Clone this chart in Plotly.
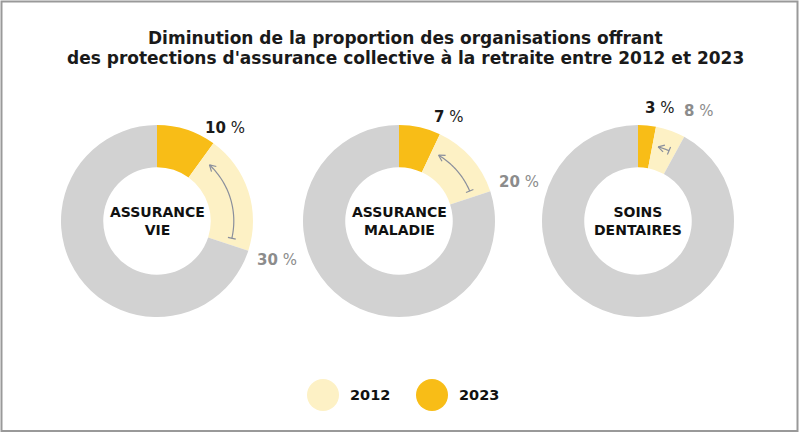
import math
import plotly.graph_objects as go

# ---- data ----
categories = ["ASSURANCE<br>VIE", "ASSURANCE<br>MALADIE", "SOINS<br>DENTAIRES"]
pct_2012 = [30, 20, 8]
pct_2023 = [10, 7, 3]
years = ["2012", "2023"]
title_lines = [
    "Diminution de la proportion des organisations offrant",
    "des protections d'assurance collective à la retraite entre 2012 et 2023",
]

# ---- styles / layout ----
W, H = 800, 434
C_2012 = "#fdf1c5"
C_2023 = "#f8bd17"
C_REST = "#d2d2d2"
ARROW_C = "#8a8f9c"
FONT = "DejaVu Sans, Liberation Sans, Arial, sans-serif"

centers_x = [157, 399, 638]
center_y = 221
R = 96
HOLE = 0.56


def px(x):
    return x / W


def py(y):
    return 1 - y / H


def polar(cx, cy, rho, theta_deg):
    t = math.radians(theta_deg)
    return cx + rho * math.sin(t), cy - rho * math.cos(t)


fig = go.Figure()
annotations = []
shapes = []

for i, cat in enumerate(categories):
    cx = centers_x[i]
    v23, v12 = pct_2023[i], pct_2012[i]
    fig.add_trace(go.Pie(
        values=[v23, v12 - v23, 100 - v12],
        labels=["2023", "2012", "autres"],
        marker=dict(colors=[C_2023, C_2012, C_REST], line=dict(width=0)),
        sort=False, direction="clockwise", rotation=0, hole=HOLE,
        textinfo="none", hoverinfo="skip", showlegend=False,
        domain=dict(x=[px(cx - R), px(cx + R)], y=[py(center_y + R), py(center_y - R)]),
    ))

    # centre label
    annotations.append(dict(
        x=px(cx), y=py(center_y), xref="paper", yref="paper",
        text="<b>" + cat + "</b>", showarrow=False,
        font=dict(family=FONT, size=14, color="#111111"),
        xanchor="center", yanchor="middle",
    ))

    # percentage labels
    a23 = v23 * 3.6
    a12 = v12 * 3.6
    lx, ly = polar(cx, center_y, R * 1.2, a23)
    annotations.append(dict(
        x=px(lx), y=py(ly), xref="paper", yref="paper",
        text="<b>%d</b> %%" % v23, showarrow=False,
        font=dict(family=FONT, size=15, color="#1a1a1a"),
        xanchor="center", yanchor="middle",
    ))
    lx, ly = polar(cx, center_y, R * 1.31, a12)
    annotations.append(dict(
        x=px(lx), y=py(ly), xref="paper", yref="paper",
        text="<b>%d</b> %%" % v12, showarrow=False,
        font=dict(family=FONT, size=15, color="#8c8c8c"),
        xanchor="center", yanchor="middle",
    ))

    # curved arrow from 2012 boundary to 2023 boundary
    span = a12 - a23
    t_tail = a12 - 5
    t_head = a23 + 3.5 + 0.05 * span
    rho = R * 0.8
    n = 30
    pts = [polar(cx, center_y, rho, t_tail + (t_head - t_tail) * k / n) for k in range(n + 1)]
    path = "M " + " L ".join("%.5f,%.5f" % (px(x), py(y)) for x, y in pts)
    shapes.append(dict(type="path", path=path, xref="paper", yref="paper",
                       line=dict(color=ARROW_C, width=1.2), layer="above"))
    # tee at tail (radial bar)
    p1 = polar(cx, center_y, rho - 4, t_tail)
    p2 = polar(cx, center_y, rho + 4, t_tail)
    shapes.append(dict(type="line", x0=px(p1[0]), y0=py(p1[1]), x1=px(p2[0]), y1=py(p2[1]),
                       xref="paper", yref="paper", line=dict(color=ARROW_C, width=1.2), layer="above"))
    # arrowhead at head
    hx, hy = pts[-1]
    th = math.radians(t_head)
    bx, by = math.cos(th), math.sin(th)  # direction back along the arc
    for s in (-1, 1):
        ang = math.radians(30) * s
        dx = bx * math.cos(ang) - by * math.sin(ang)
        dy = bx * math.sin(ang) + by * math.cos(ang)
        shapes.append(dict(type="line", x0=px(hx), y0=py(hy), x1=px(hx + 7 * dx), y1=py(hy + 7 * dy),
                           xref="paper", yref="paper", line=dict(color=ARROW_C, width=1.2), layer="above"))

# title
for j, line in enumerate(title_lines):
    annotations.append(dict(
        x=px(406), y=py(38 + 20 * j), xref="paper", yref="paper",
        text="<b>" + line + "</b>", showarrow=False,
        font=dict(family=FONT, size=17, color="#1a1a1a"),
        xanchor="center", yanchor="middle",
    ))

# legend
legend_x = [323, 432]
legend_colors = [C_2012, C_2023]
legend_y = 395
for j, yr in enumerate(years):
    lx = legend_x[j]
    shapes.append(dict(type="circle", xref="paper", yref="paper",
                       x0=px(lx - 16), x1=px(lx + 16), y0=py(legend_y + 16), y1=py(legend_y - 16),
                       fillcolor=legend_colors[j], line=dict(width=0), layer="above"))
    annotations.append(dict(
        x=px(lx + 25), y=py(legend_y), xref="paper", yref="paper",
        text="<b>" + yr + "</b>", showarrow=False,
        font=dict(family=FONT, size=14.5, color="#111111"),
        xanchor="left", yanchor="middle",
    ))

# frame
shapes.append(dict(type="rect", xref="paper", yref="paper",
                   x0=px(1.5), x1=px(797.5), y0=py(431), y1=py(1.5),
                   line=dict(color="#999999", width=2), layer="above"))

fig.update_layout(
    width=W, height=H,
    margin=dict(l=0, r=0, t=0, b=0),
    paper_bgcolor="white", plot_bgcolor="white",
    showlegend=False,
    annotations=annotations,
    shapes=shapes,
)

fig.write_html("out.html")
